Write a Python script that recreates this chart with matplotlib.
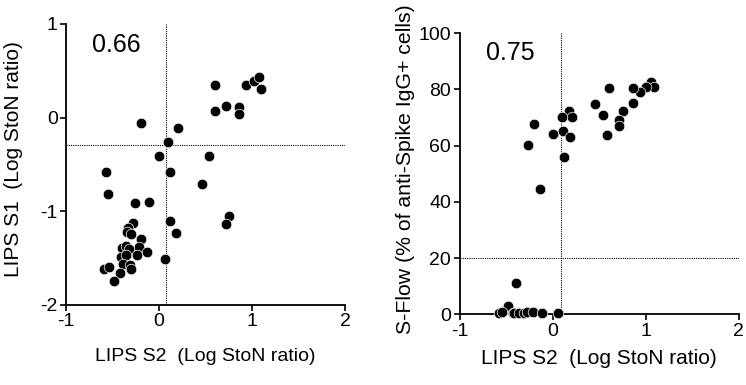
import matplotlib.pyplot as plt

plt.rcParams['font.family'] = ['Liberation Sans', 'DejaVu Sans']

# left panel: LIPS S2 vs LIPS S1
s2_left = [0.60, 0.94, 1.02, 1.08, 1.10, 0.60, 0.72, 0.86, 0.86,
           -0.19, 0.20, 0.10, 0.00, 0.54, -0.57, 0.12, 0.46, -0.55,
           -0.26, -0.11, 0.75, 0.72, 0.12, 0.18, 0.06,
           -0.28, -0.33, -0.34, -0.30, -0.19, -0.22, -0.13, -0.40, -0.35,
           -0.32, -0.24, -0.41, -0.36, -0.39, -0.31, -0.30, -0.59, -0.54,
           -0.42, -0.48]
s1_left = [0.35, 0.35, 0.39, 0.43, 0.30, 0.07, 0.12, 0.11, 0.04,
           -0.06, -0.11, -0.26, -0.41, -0.41, -0.58, -0.58, -0.71, -0.82,
           -0.91, -0.90, -1.05, -1.14, -1.10, -1.23, -1.51,
           -1.13, -1.18, -1.22, -1.24, -1.30, -1.38, -1.43, -1.39, -1.37,
           -1.40, -1.47, -1.49, -1.47, -1.56, -1.57, -1.62, -1.62, -1.60,
           -1.66, -1.75]

# right panel: LIPS S2 vs S-Flow
s2_right = [1.06, 1.09, 1.01, 0.94, 0.86, 0.61, 0.86, 0.46, 0.76, 0.71,
            0.72, 0.54, 0.59, 0.18, 0.21, 0.10, 0.11, 0.19, 0.00, 0.12,
            -0.20, -0.26, -0.13, -0.39, -0.48, -0.58, -0.54, -0.43, -0.41,
            -0.36, -0.31, -0.27, -0.21, -0.11, 0.06]
flow_right = [82.8, 80.8, 80.8, 79.2, 80.4, 80.4, 75.3, 74.7, 72.4, 69.2,
              67.0, 70.8, 63.7, 72.4, 70.3, 70.2, 65.2, 63.1, 64.1, 56.0,
              67.7, 60.3, 44.7, 11.0, 3.1, 0.4, 0.7, 0.5, 0.4,
              0.4, 0.4, 0.8, 0.9, 0.4, 0.6]

cut_left_x, cut_left_y = 0.08, -0.29
cut_right_x, cut_right_y = 0.09, 20

fig = plt.figure(figsize=(7.46, 3.85), dpi=100)
ax1 = fig.add_axes([0.0885, 0.208, 0.374, 0.730])
ax2 = fig.add_axes([0.616, 0.1836, 0.374, 0.730])

def style(ax):
    for side in ("top", "right"):
        ax.spines[side].set_visible(False)
    for side in ("left", "bottom"):
        ax.spines[side].set_linewidth(1.3)
    ax.tick_params(direction="out", length=4, width=1.2, labelsize=14, pad=2)

# left
ax1.axvline(cut_left_x, color="black", ls=(0, (1, 1)), lw=0.8)
ax1.axhline(cut_left_y, color="black", ls=(0, (1, 1)), lw=0.8)
ax1.scatter(s2_left, s1_left, s=58, c="black", edgecolors="white", linewidths=0.5, zorder=3)
ax1.set_xlim(-1, 2)
ax1.set_ylim(-2, 1)
ax1.set_xticks([-1, 0, 1, 2])
ax1.set_xticklabels(["-1", "0", "1", "2"])
ax1.set_yticks([-2, -1, 0, 1])
ax1.set_yticklabels(["-2", "-1", "0", "1"])
ax1.set_xlabel("LIPS S2  (Log StoN ratio)", fontsize=14, labelpad=13)
ax1.set_ylabel("LIPS S1  (Log StoN ratio)", fontsize=15)
ax1.yaxis.set_label_coords(-0.154, 0.52)
ax1.text(-0.46, 0.77, "0.66", fontsize=18, ha="center", va="center")
style(ax1)

# right
ax2.axvline(cut_right_x, color="black", ls=(0, (1, 1)), lw=0.8)
ax2.axhline(cut_right_y, color="black", ls=(0, (1, 1)), lw=0.8)
ax2.scatter(s2_right, flow_right, s=58, c="black", edgecolors="white", linewidths=0.5,
            zorder=3, clip_on=False)
ax2.set_xlim(-1, 2)
ax2.set_ylim(0, 100)
ax2.set_xticks([-1, 0, 1, 2])
ax2.set_xticklabels(["-1", "0", "1", "2"])
ax2.set_yticks([0, 20, 40, 60, 80, 100])
ax2.set_xlabel("LIPS S2  (Log StoN ratio)", fontsize=15, labelpad=7)
ax2.set_ylabel("S-Flow (% of anti-Spike IgG+ cells)", fontsize=15.3)
ax2.yaxis.set_label_coords(-0.16, 0.517)
ax2.text(-0.45, 92.9, "0.75", fontsize=18, ha="center", va="center")
style(ax2)

fig.savefig("out.png", dpi=100)
